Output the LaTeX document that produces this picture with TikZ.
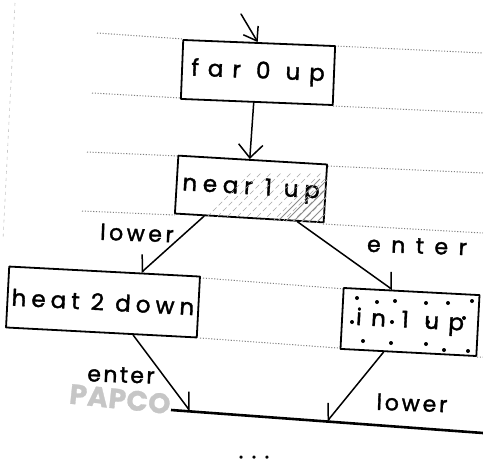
\documentclass[tikz,border=0pt]{standalone}
\usepackage{fontspec}
\newfontfamily\hand[FakeBold=1.6]{Poppins}
\newfontfamily\handmark[FakeBold=1]{Poppins}
\newfontfamily\handdots[FakeBold=7]{Poppins}
\usetikzlibrary{arrows.meta,calc}
\newcommand\spaced[2]{{\addfontfeatures{LetterSpace=#1}#2}}
\tikzset{
  ink/.style={line width=1.5pt, line cap=round, line join=round},
  stbox/.style={draw, line width=1.8pt, line join=round, fill=white, inner sep=0pt,
    font=\hand\fontsize{23}{27}\selectfont},
  lbl/.style={inner sep=0pt, font=\hand\fontsize{22}{26}\selectfont, rotate=-2},
  rule/.style={black!50, line width=1pt, dash pattern=on 1.1pt off 1.7pt},
  margin/.style={gray!45, line width=0.6pt, dash pattern=on 3pt off 4pt},
  hatch/.style={black!35, line width=0.7pt, dash pattern=on 5pt off 3pt},
  densehatch/.style={black!45, line width=0.8pt},
  grain/.style={fill=black},
}
\begin{document}
\begin{tikzpicture}[x=1pt,y=-1pt]
\useasboundingbox (0,0) rectangle (483,464);
\fill[white] (0,0) rectangle (483,464);

% notebook ruling
\draw[rule] (97,33) -- (183,39) (335,46) -- (483,53);
\draw[rule] (92,93) -- (181,98) (333,106) -- (483,113);
\draw[rule] (87,152) -- (179,156) (328,166) -- (483,173);
\draw[rule] (82,211) -- (175,215) (323,224) -- (483,233);
\draw[rule] (203,278) -- (345,289);
\draw[rule] (200,338) -- (338,348) (477,357) -- (483,357);
\draw[margin] (15,3) -- (3,240);

% paper maker's mark
\node[text=gray!45, font=\handmark\bfseries\fontsize{28}{32}\selectfont, rotate=-6, inner sep=0pt]
  (mark) at (120,399) {\spaced{2}{PAPCO}};

% states
\node[stbox, minimum width=152pt, minimum height=59pt, rotate=-2.3] (far) at (258,72.5)
  {\spaced{39}{far 0 up}};
\node[stbox, minimum width=149pt, minimum height=58pt, rotate=-3.4] (near) at (251,189)
  {\spaced{25}{near 1 up}};
\node[stbox, minimum width=191pt, minimum height=61pt, rotate=-3] (heat) at (103,302)
  {\spaced{22}{heat 2 down}};
\node[stbox, minimum width=136pt, minimum height=61pt, rotate=-3] (in) at (410,322)
  {\spaced{41}{in 1 up}};

% hatching of the near state
\begin{scope}
  \clip (near.north west) -- (near.north east) -- (near.south east) -- (near.south west) -- cycle;
  \foreach \x in {196,206,...,300} \draw[hatch] (\x,228) -- ++(55,-55);
  \foreach \x in {275,283,...,323} \draw[densehatch] (\x,224) -- ++(45,-45);
\end{scope}

% stippling of the in state
\foreach \p in {(357,298),(377,302),(395,301),(426,303),(448,303),(472,301),
                (352,322),(392,322),(428,322),(464,318),
                (363,341),(391,343),(426,344),(444,350),(468,351)}
  \fill[grain] \p circle (2);

% merge bar and continuation
\coordinate (bl) at (171,410);
\coordinate (br) at (483,433);
\draw[line width=2.6pt] (bl) -- (br);
\node[font=\handdots\fontsize{16}{16}\selectfont, inner sep=0pt, anchor=base] (more)
  at (254,458) {\spaced{60}{...}};

% transitions
\coordinate (entry) at (241,14);
\draw[ink, -{Straight Barb[angle=70:15pt]}] (entry) -- ($(far.north west)!0.49!(far.north east)$);
\draw[ink, -{Straight Barb[angle=85:18pt]}] ($(far.south west)!0.48!(far.south east)$)
  -- ($(near.north west)!0.48!(near.north east)$);
\draw[ink, -{Straight Barb[right, angle=98:17pt]}] ($(near.south west)!0.2!(near.south east)$)
  -- ($(heat.north west)!0.69!(heat.north east)$);
\draw[ink, -{Straight Barb[left, angle=108:17pt]}] ($(near.south west)!0.82!(near.south east)$)
  -- ($(in.north west)!0.36!(in.north east)$);
\draw[ink, -{Straight Barb[left, angle=73:18pt]}] ($(heat.south west)!0.665!(heat.south east)$)
  -- ($(bl)!0.062!(br)$);
\draw[ink, -{Straight Barb[right, angle=80:17pt]}] ($(in.south west)!0.32!(in.south east)$)
  -- ($(bl)!0.5!(br)$);

% transition labels
\node[lbl] (l1) at (137,233) {\spaced{16}{lower}};
\node[lbl] (l2) at (417,246) {\spaced{48}{enter}};
\node[lbl] (l3) at (121,375) {\spaced{11}{enter}};
\node[lbl] (l4) at (412,403) {\spaced{13}{lower}};
\end{tikzpicture}
\end{document}
